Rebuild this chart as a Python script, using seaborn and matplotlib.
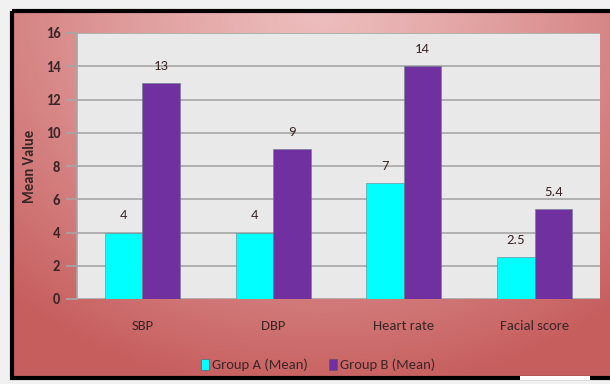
import numpy as np
import pandas as pd
import matplotlib
matplotlib.use("Agg")
import matplotlib.pyplot as plt
from matplotlib.patches import Rectangle
from matplotlib import font_manager
import seaborn as sns

categories = ["SBP", "DBP", "Heart rate", "Facial score"]
group_a = [4, 4, 7, 2.5]
group_b = [13, 9, 14, 5.4]
series_names = ["Group A (Mean)", "Group B (Mean)"]
colors = ["#00FFFF", "#7030A0"]
yticks = [0, 2, 4, 6, 8, 10, 12, 14, 16]

df = pd.DataFrame({
    "Category": categories * 2,
    "Value": group_a + group_b,
    "Series": [series_names[0]] * len(categories) + [series_names[1]] * len(categories),
})

sns.set_theme(style="white")
avail = {f.name for f in font_manager.fontManager.ttflist}
fam = "DejaVu Sans"
for cand in ["Carlito", "Lato", "Open Sans"]:
    if cand in avail:
        fam = cand
        break
plt.rcParams["font.family"] = [fam, "DejaVu Sans"]
txt = "#3b2626"

W, H = 610, 384
fig = plt.figure(figsize=(W / 100, H / 100), dpi=100)
fig.patch.set_facecolor("#f1f1f1")

# background gradient inside black frame
bg = fig.add_axes([0, 0, 1, 1], zorder=-5)
bg.set_xlim(0, W)
bg.set_ylim(H, 0)
bg.axis("off")
x0, x1, y0, y1 = 12, 625, 11, 378
gx = np.linspace(0, 1, 300)
gy = np.linspace(0, 1, 200)
X, Y = np.meshgrid(gx, gy)
d = np.sqrt(((X - 0.5) / 0.75) ** 2 + (Y / 1.05) ** 2)
t = np.clip(d, 0, 1) ** 1.2
light = np.array([0.93, 0.74, 0.74])
dark = np.array([0.78, 0.37, 0.37])
img = light[None, None, :] * (1 - t[..., None]) + dark[None, None, :] * t[..., None]
bg.imshow(img, extent=(x0, x1, y1, y0), aspect="auto", zorder=0)
bg.add_patch(Rectangle((x0, y0), x1 - x0, y1 - y0, fill=False, edgecolor="black", linewidth=3, zorder=2))
bg.add_patch(Rectangle((520, 376), 70, 4, facecolor="white", edgecolor="none", zorder=3))

ax = fig.add_axes([77 / W, 1 - 299 / H, (600 - 77) / W, (299 - 33) / H])
ax.set_facecolor("#e9e9e9")
sns.barplot(data=df, x="Category", y="Value", hue="Series", palette=colors,
            width=0.575, gap=0, ax=ax, legend=False, edgecolor="#6b7f8a", linewidth=0.4,
            saturation=1, zorder=3)
ax.set_ylim(0, 16)
ax.set_yticks(yticks)
ax.set_yticklabels([str(v) for v in yticks], fontsize=10.5, color=txt, fontweight="bold")
ax.yaxis.grid(True, color="#a6a6a6", linewidth=1.2, zorder=0)
ax.set_axisbelow(True)
ax.tick_params(axis="y", length=8, width=1.2, color="#a6a6a6", pad=4, left=True)
ax.tick_params(axis="x", length=0, pad=15, labelsize=10.5, labelcolor=txt)
for s in ["top", "right", "bottom"]:
    ax.spines[s].set_visible(False)
ax.spines["left"].set_color("#a6a6a6")
ax.spines["left"].set_linewidth(1.2)
ax.set_xlabel("")
ax.set_ylabel("Mean Value", fontsize=10.5, fontweight="bold", color=txt)
ax.yaxis.set_label_coords((37 - 77) / (600 - 77), 0.5)

for cont in ax.containers:
    ax.bar_label(cont, fmt="{:g}", padding=8, fontsize=10.5, color=txt)

handles = [Rectangle((0, 0), 1, 1, facecolor=c, edgecolor="#555555", linewidth=0.4) for c in colors]
fig.legend(handles, series_names, loc="center", bbox_to_anchor=(318 / W, 1 - 365 / H), ncol=2,
           frameon=False, fontsize=10.5, handlelength=0.6, handleheight=0.8, handletextpad=0.2,
           columnspacing=1.4, labelcolor=txt)

fig.savefig("out.png", dpi=100, facecolor=fig.get_facecolor())
